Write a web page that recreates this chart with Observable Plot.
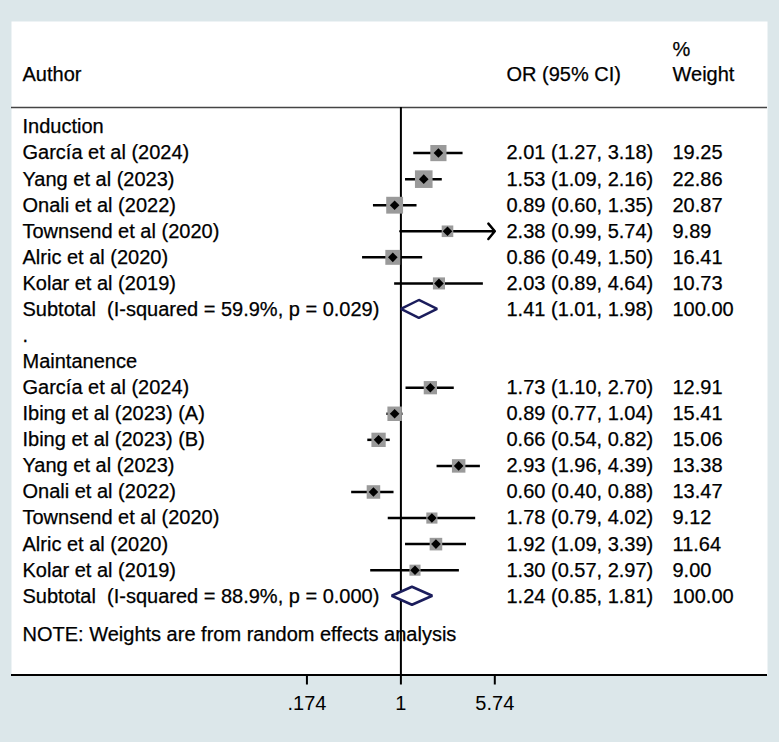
<!DOCTYPE html>
<html>
<head>
<meta charset="utf-8">
<script src="https://cdn.jsdelivr.net/npm/d3@7"></script>
<script src="https://cdn.jsdelivr.net/npm/@observablehq/plot@0.6"></script>
<style>
  body { margin: 0; background: #dce7ea; }
  #chart svg { display: block; }
</style>
</head>
<body>
<div id="chart"></div>
<script>
// ---------- data ----------
const groupNames = ["Induction", "Maintanence"];
const studyGroup = [0, 0, 0, 0, 0, 0, 1, 1, 1, 1, 1, 1, 1, 1];
const authors = [
  "García et al (2024)", "Yang et al (2023)", "Onali et al (2022)",
  "Townsend et al (2020)", "Alric et al (2020)", "Kolar et al (2019)",
  "García et al (2024)", "Ibing et al (2023) (A)", "Ibing et al (2023) (B)",
  "Yang et al (2023)", "Onali et al (2022)", "Townsend et al (2020)",
  "Alric et al (2020)", "Kolar et al (2019)"
];
const oddsRatio = [2.01, 1.53, 0.89, 2.38, 0.86, 2.03, 1.73, 0.89, 0.66, 2.93, 0.60, 1.78, 1.92, 1.30];
const ciLower   = [1.27, 1.09, 0.60, 0.99, 0.49, 0.89, 1.10, 0.77, 0.54, 1.96, 0.40, 0.79, 1.09, 0.57];
const ciUpper   = [3.18, 2.16, 1.35, 5.74, 1.50, 4.64, 2.70, 1.04, 0.82, 4.39, 0.88, 4.02, 3.39, 2.97];
const weights   = [19.25, 22.86, 20.87, 9.89, 16.41, 10.73, 12.91, 15.41, 15.06, 13.38, 13.47, 9.12, 11.64, 9.00];

const subtotalLabels = [
  "Subtotal  (I-squared = 59.9%, p = 0.029)",
  "Subtotal  (I-squared = 88.9%, p = 0.000)"
];
const subtotalOR     = [1.41, 1.24];
const subtotalLower  = [1.01, 0.85];
const subtotalUpper  = [1.98, 1.81];
const subtotalWeight = [100.00, 100.00];

const headerLabels = ["Author", "OR (95% CI)", "%", "Weight"];
const noteText = "NOTE: Weights are from random effects analysis";
const blankLabel = ".";
const tickValues = [0.174, 1, 5.74];
const tickLabels = [".174", "1", "5.74"];
const xMax = 5.74;

// ---------- build rows ----------
const studies = [], subtotals = [], labels = [];
let row = 0;
groupNames.forEach((g, gi) => {
  labels.push({row, text: g});
  row++;
  authors.forEach((a, i) => {
    if (studyGroup[i] !== gi) return;
    studies.push({row, author: a, or: oddsRatio[i], lo: ciLower[i], hi: ciUpper[i], w: weights[i]});
    labels.push({row, text: a});
    row++;
  });
  subtotals.push({row, or: subtotalOR[gi], lo: subtotalLower[gi], hi: subtotalUpper[gi], w: subtotalWeight[gi]});
  labels.push({row, text: subtotalLabels[gi]});
  row++;
  if (gi < groupNames.length - 1) { labels.push({row, text: blankLabel}); row++; }
});
const fmt = v => v.toFixed(2);
const statRows = [...studies, ...subtotals].map(d => ({
  row: d.row, ci: `${fmt(d.or)} (${fmt(d.lo)}, ${fmt(d.hi)})`, w: fmt(d.w)
}));
const diamondHalf = 0.345;
const diamondPts = subtotals.flatMap((d, k) => [
  {id: k, y: d.row - diamondHalf, x1: d.or, x2: d.or},
  {id: k, y: d.row, x1: d.lo, x2: d.hi},
  {id: k, y: d.row + diamondHalf, x1: d.or, x2: d.or}
]);
const clipped = studies.filter(d => d.hi >= xMax);
const unclipped = studies.filter(d => d.hi < xMax);

// ---------- layout ----------
const lastRow = row - 1;
const headerRow = -2, pctRow = -2.97, headerLine = -0.75;
const noteRow = lastRow + 1.47;
const axisRow = lastRow + 3.02;

const smallDiamond = {
  draw(ctx, size) {
    const r = Math.sqrt(size / Math.PI);
    ctx.moveTo(0, -r); ctx.lineTo(r, 0); ctx.lineTo(0, r); ctx.lineTo(-r, 0); ctx.closePath();
  }
};

const FS = 20;
const col = {author: 11, ci: 495, weight: 661};
const textStyle = {frameAnchor: "left", textAnchor: "start", fontSize: FS, fill: "black", stroke: "black", strokeWidth: 0.25};

const chart = Plot.plot({
  width: 779,
  height: 742,
  marginLeft: 11,
  marginRight: 12,
  marginTop: 21,
  marginBottom: 67.5,
  style: {background: "#dce7ea", fontFamily: "'Liberation Sans', Arial, sans-serif", fontSize: FS + "px", color: "black"},
  x: {type: "log", domain: [1 / xMax, xMax], range: [306.5, 494.3], label: null},
  y: {domain: [0, 18], range: [126.5, 126.5 + 18 * 26.07], axis: null},
  r: {type: "sqrt", domain: [0, 25], range: [0, 10.4]},
  marks: [
    Plot.frame({fill: "white", stroke: "none"}),
    Plot.ruleY([headerLine], {stroke: "#444", strokeWidth: 1.5}),
    Plot.ruleX([1], {y1: headerLine, y2: axisRow, stroke: "black", strokeWidth: 2}),
    Plot.ruleY(unclipped, {y: "row", x1: "lo", x2: "hi", stroke: "black", strokeWidth: 2.5}),
    Plot.arrow(clipped, {x1: "lo", x2: "hi", y1: "row", y2: "row", stroke: "black", strokeWidth: 2.5, headLength: 6, headAngle: 100}),
    Plot.dot(studies, {x: "or", y: "row", r: "w", symbol: "square", fill: "#9a9a9a", stroke: "none"}),
    Plot.dot(studies, {x: "or", y: "row", r: 4.8, symbol: smallDiamond, fill: "black", stroke: "none"}),
    Plot.areaX(diamondPts, {y: "y", x1: "x1", x2: "x2", z: "id", fill: "white", stroke: "#1b1d5c", strokeWidth: 2.5, strokeLinejoin: "miter", curve: "linear"}),
    // header
    Plot.text([headerLabels[0]], {...textStyle, y: [headerRow], text: d => d, dx: col.author}),
    Plot.text([headerLabels[1]], {...textStyle, y: [headerRow], text: d => d, dx: col.ci}),
    Plot.text([headerLabels[2]], {...textStyle, y: [pctRow], text: d => d, dx: col.weight}),
    Plot.text([headerLabels[3]], {...textStyle, y: [headerRow], text: d => d, dx: col.weight}),
    // rows
    Plot.text(labels, {...textStyle, y: "row", text: "text", dx: col.author}),
    Plot.text(statRows, {...textStyle, y: "row", text: "ci", dx: col.ci}),
    Plot.text(statRows, {...textStyle, y: "row", text: "w", dx: col.weight}),
    Plot.text([noteText], {...textStyle, y: [noteRow], text: d => d, dx: col.author}),
    // axis
    Plot.ruleY([axisRow], {stroke: "black", strokeWidth: 2}),
    Plot.axisX({ticks: tickValues, tickFormat: d => tickLabels[tickValues.indexOf(d)], tickSize: 10, tickPadding: 11, strokeWidth: 2, fontSize: FS, label: null, anchor: "bottom", fill: "black"})
  ]
});
document.getElementById("chart").append(chart);
</script>
</body>
</html>
